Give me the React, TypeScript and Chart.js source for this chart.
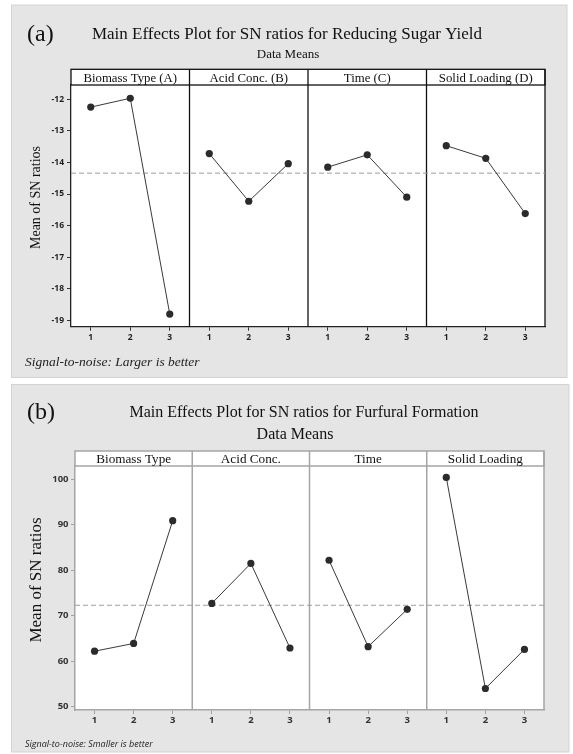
import React, { useEffect, useRef } from "react";
import { Chart, registerables } from "chart.js";

Chart.register(...registerables);

// ---------- data ----------
const levels = [1, 2, 3];

// (a) Reducing sugar yield
const factorsA = ["Biomass Type (A)", "Acid Conc. (B)", "Time (C)", "Solid Loading (D)"];
const biomassA = [-12.25, -11.97, -18.8];
const acidA = [-13.72, -15.23, -14.04];
const timeA = [-14.15, -13.76, -15.1];
const solidA = [-13.47, -13.87, -15.62];
const meanA = -14.34;
const yTicksA = [-19, -18, -17, -16, -15, -14, -13, -12];

// (b) Furfural formation
const factorsB = ["Biomass Type", "Acid Conc.", "Time", "Solid Loading"];
const biomassB = [62.2, 63.9, 90.9];
const acidB = [72.7, 81.5, 62.9];
const timeB = [82.2, 63.2, 71.4];
const solidB = [100.4, 54.0, 62.6];
const meanB = 72.3;
const yTicksB = [50, 60, 70, 80, 90, 100];

// ---------- styling / layout ----------
const W = 573;
const SERIF = "'Liberation Serif', 'Times New Roman', serif";
const SANS = "'Open Sans', 'DejaVu Sans', sans-serif";

const cfgA = {
  height: 380,
  box: { x: 11.5, y: 5, w: 555.5, h: 372.5 },
  label: "(a)", labelX: 27, labelBase: 41, labelFont: `24px ${SERIF}`,
  title: "Main Effects Plot for SN ratios for Reducing Sugar Yield",
  titleX: 287, titleBase: 39, titleFont: `17px ${SERIF}`,
  sub: "Data Means", subX: 288, subBase: 57.5, subFont: `13px ${SERIF}`,
  factors: factorsA,
  series: [biomassA, acidA, timeA, solidA],
  mean: meanA, yTicks: yTicksA, yMin: -19.2, yMax: -11.55,
  areaTop: 85, areaRight: 545, yAxisWidth: 71, xAxisHeight: 53.3,
  headerTop: 69.3, headerBase: 82.3, headerFont: `12.8px ${SERIF}`,
  frameColor: "#111", frameWidth: 1.3, axisColor: "#222", tickColor: "#333",
  tickLabelColor: "#1e1e1e", tickSize: 8.5, yTickPad: 3, xTickPad: 2,
  yTitle: "Mean of SN ratios", yTitleX: 36.7, yTitleY: 197.5, yTitleFont: `14px ${SERIF}`,
  footer: "Signal-to-noise: Larger is better", footerX: 25, footerBase: 366,
  footerFont: `italic 13.5px ${SERIF}`,
};

const cfgB = {
  height: 374,
  box: { x: 11.5, y: 4.5, w: 557.5, h: 367.5 },
  label: "(b)", labelX: 27, labelBase: 39, labelFont: `24px ${SERIF}`,
  title: "Main Effects Plot for SN ratios for Furfural Formation",
  titleX: 304, titleBase: 36.7, titleFont: `16px ${SERIF}`,
  sub: "Data Means", subX: 295, subBase: 58.5, subFont: `16px ${SERIF}`,
  factors: factorsB,
  series: [biomassB, acidB, timeB, solidB],
  mean: meanB, yTicks: yTicksB, yMin: 49.27, yMax: 102.92,
  areaTop: 86, areaRight: 544, yAxisWidth: 75, xAxisHeight: 44,
  headerTop: 71, headerBase: 82.8, headerFont: `13.2px ${SERIF}`,
  frameColor: "#a5a5a5", frameWidth: 1.5, axisColor: "#a5a5a5", tickColor: "#a0a0a0",
  tickLabelColor: "#333", tickSize: 9.5, yTickPad: 2.5, xTickPad: 1,
  yTitle: "Mean of SN ratios", yTitleX: 36.7, yTitleY: 200, yTitleFont: `17px ${SERIF}`,
  footer: "Signal-to-noise: Smaller is better", footerX: 25, footerBase: 367,
  footerFont: `italic 9px ${SANS}`,
};

type Cfg = typeof cfgA;

function makePlugin(cfg: Cfg) {
  return {
    id: "panelDecor",
    beforeDraw(chart: any) {
      const { ctx, chartArea: ca, width, height } = chart;
      ctx.save();
      ctx.fillStyle = "#ffffff";
      ctx.fillRect(0, 0, width, height);
      const b = cfg.box;
      ctx.fillStyle = "#e5e5e5";
      ctx.fillRect(b.x, b.y, b.w, b.h);
      ctx.strokeStyle = "#d3d3d3";
      ctx.lineWidth = 1;
      ctx.strokeRect(b.x, b.y, b.w, b.h);
      // white plot + header area
      ctx.fillStyle = "#ffffff";
      ctx.fillRect(ca.left, cfg.headerTop, ca.right - ca.left, ca.bottom - cfg.headerTop);
      // texts
      ctx.fillStyle = "#111";
      ctx.textBaseline = "alphabetic";
      ctx.textAlign = "left";
      ctx.font = cfg.labelFont;
      ctx.fillText(cfg.label, cfg.labelX, cfg.labelBase);
      ctx.textAlign = "center";
      ctx.font = cfg.titleFont;
      ctx.fillText(cfg.title, cfg.titleX, cfg.titleBase);
      ctx.font = cfg.subFont;
      ctx.fillText(cfg.sub, cfg.subX, cfg.subBase);
      // y title
      ctx.save();
      ctx.translate(cfg.yTitleX, cfg.yTitleY);
      ctx.rotate(-Math.PI / 2);
      ctx.font = cfg.yTitleFont;
      ctx.textBaseline = "middle";
      ctx.fillText(cfg.yTitle, 0, 0);
      ctx.restore();
      // footer
      ctx.textAlign = "left";
      ctx.font = cfg.footerFont;
      ctx.fillStyle = "#222";
      ctx.fillText(cfg.footer, cfg.footerX, cfg.footerBase);
      ctx.restore();
    },
    beforeDatasetsDraw(chart: any) {
      const { ctx, chartArea: ca } = chart;
      const xs = chart.scales.x;
      ctx.save();
      ctx.strokeStyle = cfg.frameColor;
      ctx.lineWidth = cfg.frameWidth;
      // header box
      ctx.strokeRect(ca.left, cfg.headerTop, ca.right - ca.left, ca.top - cfg.headerTop);
      // right frame
      ctx.beginPath();
      ctx.moveTo(ca.right, cfg.headerTop);
      ctx.lineTo(ca.right, ca.bottom);
      ctx.stroke();
      // separators
      for (let p = 1; p < cfg.factors.length; p++) {
        const x = xs.getPixelForValue(p * levels.length + 0.5);
        ctx.beginPath();
        ctx.moveTo(x, cfg.headerTop);
        ctx.lineTo(x, ca.bottom);
        ctx.stroke();
      }
      // header labels
      ctx.fillStyle = "#111";
      ctx.font = cfg.headerFont;
      ctx.textAlign = "center";
      ctx.textBaseline = "alphabetic";
      cfg.factors.forEach((f, p) => {
        const cx = xs.getPixelForValue(p * levels.length + 2);
        ctx.fillText(f, cx, cfg.headerBase);
      });
      ctx.restore();
    },
  };
}

function buildConfig(cfg: Cfg): any {
  const n = levels.length;
  const positions = cfg.factors.flatMap((_, p) => levels.map((l) => p * n + l));
  const xMin = 0.5;
  const xMax = cfg.factors.length * n + 0.5;
  const factorSets = cfg.series.map((vals, p) => ({
    data: levels.map((l, i) => ({ x: p * n + l, y: vals[i] })),
    borderColor: "#3a3a3a",
    borderWidth: 1,
    pointRadius: 3.6,
    pointBackgroundColor: "#2b2b2b",
    pointBorderColor: "#2b2b2b",
    pointBorderWidth: 0,
    tension: 0,
    fill: false,
  }));
  const meanSet = {
    data: [
      { x: xMin, y: cfg.mean },
      { x: xMax, y: cfg.mean },
    ],
    borderColor: "#9d9d9d",
    borderWidth: 1,
    borderDash: [5, 3],
    pointRadius: 0,
    fill: false,
  };
  const tickFont = { family: SANS, size: cfg.tickSize, weight: "bold" };
  return {
    type: "line",
    data: { datasets: [...factorSets, meanSet] },
    options: {
      responsive: false,
      animation: false,
      events: [],
      layout: { padding: { left: 0, top: cfg.areaTop, right: W - cfg.areaRight, bottom: 0 } },
      plugins: {
        legend: { display: false },
        tooltip: { enabled: false },
        title: { display: false },
      },
      scales: {
        x: {
          type: "linear",
          min: xMin,
          max: xMax,
          afterFit: (s: any) => {
            s.height = cfg.xAxisHeight;
          },
          afterBuildTicks: (s: any) => {
            s.ticks = positions.map((v) => ({ value: v }));
          },
          ticks: {
            autoSkip: false,
            maxRotation: 0,
            padding: cfg.xTickPad,
            color: cfg.tickLabelColor,
            font: tickFont,
            callback: (v: number) => String(levels[(Math.round(v) - 1) % n]),
          },
          grid: {
            display: true,
            drawOnChartArea: false,
            drawTicks: true,
            tickLength: 4,
            tickColor: cfg.tickColor,
          },
          border: { display: true, color: cfg.axisColor, width: cfg.frameWidth },
        },
        y: {
          type: "linear",
          min: cfg.yMin,
          max: cfg.yMax,
          afterFit: (s: any) => {
            s.width = cfg.yAxisWidth;
          },
          afterBuildTicks: (s: any) => {
            s.ticks = cfg.yTicks.map((v) => ({ value: v }));
          },
          ticks: {
            padding: cfg.yTickPad,
            color: cfg.tickLabelColor,
            font: tickFont,
            callback: (v: number) => String(v),
          },
          grid: {
            display: true,
            drawOnChartArea: false,
            drawTicks: true,
            tickLength: 4,
            tickColor: cfg.tickColor,
          },
          border: { display: true, color: cfg.axisColor, width: cfg.frameWidth },
        },
      },
    },
    plugins: [makePlugin(cfg)],
  };
}

function PanelChart({ cfg }: { cfg: Cfg }) {
  const ref = useRef<HTMLCanvasElement | null>(null);
  useEffect(() => {
    if (!ref.current) return;
    const chart = new Chart(ref.current, buildConfig(cfg));
    return () => chart.destroy();
  }, [cfg]);
  return (
    <canvas
      ref={ref}
      width={W}
      height={cfg.height}
      style={{ display: "block", width: W, height: cfg.height }}
    />
  );
}

export default function App() {
  return (
    <div
      style={{
        position: "absolute",
        left: 0,
        top: 0,
        width: W,
        height: 754,
        background: "#ffffff",
        overflow: "hidden",
      }}
    >
      <PanelChart cfg={cfgA} />
      <PanelChart cfg={cfgB} />
    </div>
  );
}
